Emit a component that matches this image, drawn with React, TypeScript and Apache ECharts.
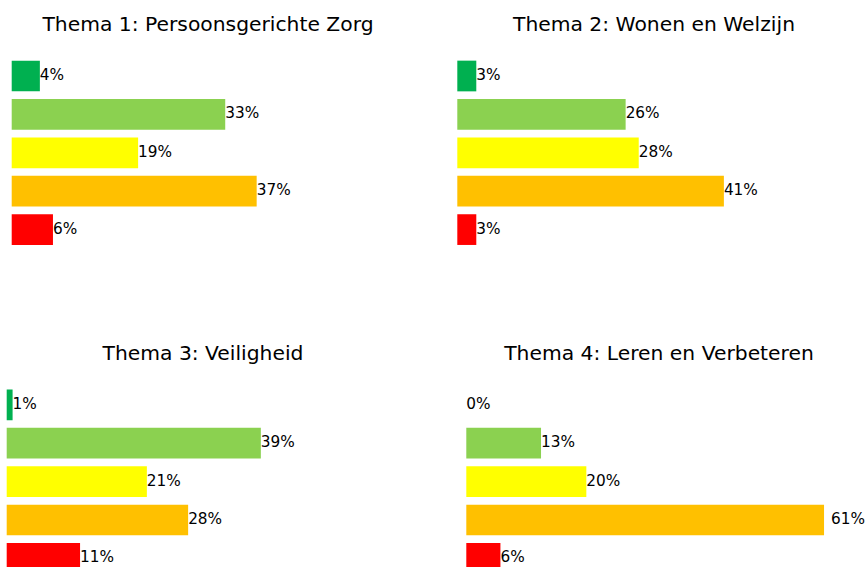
import React, { useEffect, useRef } from "react";
import * as echarts from "echarts";

// Categories (hidden) and bar colours, top to bottom
const categories = ["groen", "lichtgroen", "geel", "oranje", "rood"];
const colors = ["#00B050", "#8BD150", "#FFFF00", "#FFC000", "#FF0000"];

const titles = [
  "Thema 1: Persoonsgerichte Zorg",
  "Thema 2: Wonen en Welzijn",
  "Thema 3: Veiligheid",
  "Thema 4: Leren en Verbeteren",
];

// Percentages (bar lengths), labels are rounded
const thema1 = [4.3, 32.6, 19.3, 37.4, 6.3];
const thema2 = [2.9, 25.7, 27.7, 40.7, 2.9];
const thema3 = [0.9, 38.8, 21.4, 27.7, 11.2];
const thema4 = [0, 12.7, 20.4, 60.8, 5.8];

const allValues = [thema1, thema2, thema3, thema4];

// Layout of the four panels
const panels = [
  { left: 11.7, top: 56.8, width: 393, max: 60, titleX: 208, titleY: 14 },
  { left: 457.3, top: 56.8, width: 393, max: 60, titleX: 654, titleY: 14 },
  { left: 6.7, top: 385.6, width: 393, max: 60, titleX: 203, titleY: 343 },
  { left: 466.3, top: 385.6, width: 385.4, max: 65.5, titleX: 659, titleY: 343 },
];

const FONT = "DejaVu Sans";

export default function App() {
  const ref = useRef<HTMLDivElement>(null);

  useEffect(() => {
    document.body.style.margin = "0";
    if (!ref.current) return;
    const chart = echarts.init(ref.current, null, { renderer: "svg" });

    const option: any = {
      animation: false,
      backgroundColor: "#ffffff",
      title: panels.map((p, i) => ({
        text: titles[i],
        left: p.titleX,
        top: p.titleY,
        textAlign: "center",
        padding: 0,
        textStyle: {
          fontFamily: FONT,
          fontSize: 20.3,
          fontWeight: "normal",
          color: "#000000",
        },
      })),
      grid: panels.map((p) => ({
        left: p.left,
        top: p.top,
        width: p.width,
        height: 192,
        containLabel: false,
      })),
      xAxis: panels.map((p, i) => ({
        type: "value",
        gridIndex: i,
        min: 0,
        max: p.max,
        show: false,
        splitLine: { show: false },
      })),
      yAxis: panels.map((p, i) => ({
        type: "category",
        gridIndex: i,
        data: categories,
        inverse: true,
        show: false,
      })),
      series: allValues.map((vals, i) => ({
        type: "bar",
        xAxisIndex: i,
        yAxisIndex: i,
        barWidth: "80%",
        data: vals.map((v, j) => ({
          value: v,
          itemStyle: { color: colors[j] },
          // the 61% label in the last panel sits a little away from its bar
          label: i === 3 && j === 3 ? { distance: 7 } : undefined,
        })),
        label: {
          show: true,
          position: "right",
          distance: 0,
          fontFamily: FONT,
          fontSize: 15.3,
          color: "#000000",
          offset: [0, -1],
          formatter: (prm: any) => Math.round(prm.value) + "%",
        },
      })),
    };

    chart.setOption(option);
    return () => chart.dispose();
  }, []);

  return (
    <div style={{ width: 866, height: 567, overflow: "hidden", position: "relative" }}>
      <div ref={ref} style={{ width: 866, height: 600 }} />
    </div>
  );
}
